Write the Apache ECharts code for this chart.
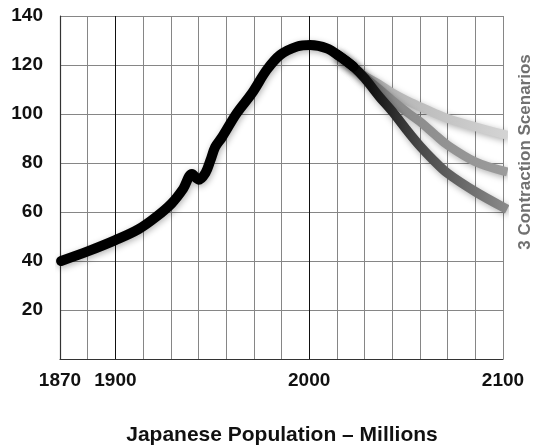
<!DOCTYPE html>
<html>
<head>
<meta charset="utf-8">
<script src="https://cdn.jsdelivr.net/npm/echarts@6/dist/echarts.min.js"></script>
<style>
  html, body { margin: 0; padding: 0; background: #fff; }
  #chart { width: 545px; height: 448px; }
</style>
</head>
<body>
<div id="chart"></div>
<script>
// x axis runs so the grid lines (every 100/7 years) land on 1900 and 2000
const X_MIN = 1900 - 200 / 7;
const X_MAX = 2100;

const xTickValues = [X_MIN, 1900, 2000, 2100];
const xTickLabels = ["1870", "1900", "2000", "2100"];

// historical curve, millions
const historyYears = [1872, 1886, 1900, 1912, 1921, 1929, 1935, 1939.5, 1943, 1946.5, 1949, 1951.5, 1955, 1962.6, 1970.4, 1978.1, 1985, 1993.6, 2000.5, 2009.1, 2016, 2022.8];
const historyPop   = [40, 44, 48.5, 53, 58, 63.5, 69.5, 75.5, 73.2, 76, 81, 86.5, 90.5, 100.3, 108.4, 118, 124.1, 127.5, 128.2, 126.8, 123.4, 119.3];

// projection scenarios
const scenarioYears = [2016, 2022.8, 2028.6, 2036.3, 2042.9, 2050, 2057.1, 2064.3, 2071.4, 2085.7, 2100];
const scenarioHigh  = [123.4, 119.3, 115.5, 112, 108.6, 105.6, 103, 100.5, 98.2, 94.8, 91.8];
const scenarioMid   = [123.4, 119.3, 115, 110, 105.5, 101, 96.9, 92, 87.3, 80.5, 76.8];
const scenarioLow   = [123.4, 119.3, 114.6, 107, 101, 93.8, 87, 81, 75.8, 68.3, 62];

const zip = (xs, ys) => xs.map((x, i) => [x, ys[i]]);

const font = '"Liberation Sans Narrow", "Liberation Sans", Arial, sans-serif';

const shadow = {
  shadowColor: "rgba(0,0,0,0.3)",
  shadowBlur: 6,
  shadowOffsetX: 1,
  shadowOffsetY: 2,
};

function grad(stops) {
  return new echarts.graphic.LinearGradient(0, 0, 1, 0,
    stops.map(([offset, color]) => ({ offset, color })));
}

const chart = echarts.init(document.getElementById("chart"));

chart.setOption({
  animation: false,
  title: {
    text: "Japanese Population \u2013 Millions",
    left: 277,
    top: 420,
    textAlign: "center",
    textStyle: { fontFamily: font, fontWeight: "bold", fontSize: 21, color: "#111" },
  },
  grid: { left: 60, right: 42, top: 16, bottom: 89 },
  xAxis: [
    {
      type: "value",
      min: X_MIN,
      max: X_MAX,
      axisLine: { show: true, lineStyle: { color: "#333", width: 1.2 } },
      axisTick: { show: false },
      splitLine: { show: false },
      axisLabel: {
        customValues: xTickValues,
        margin: 12,
        fontFamily: font,
        fontWeight: "bold",
        fontSize: 19,
        color: "#111",
        formatter: (v) => {
          let best = 0;
          xTickValues.forEach((t, i) => {
            if (Math.abs(t - v) < Math.abs(xTickValues[best] - v)) best = i;
          });
          return xTickLabels[best];
        },
      },
    },
    {
      // hidden axis only for the vertical grid lines
      type: "value",
      min: 0,
      max: 16,
      interval: 1,
      position: "bottom",
      axisLine: { show: false },
      axisTick: { show: false },
      axisLabel: { show: false },
      splitLine: { show: true, lineStyle: { color: "#868686", width: 1 } },
    },
  ],
  yAxis: {
    type: "value",
    min: 0,
    max: 140,
    interval: 20,
    axisLine: { show: true, lineStyle: { color: "#333", width: 1.2 } },
    axisTick: { show: false },
    splitLine: { show: true, lineStyle: { color: "#868686", width: 1 } },
    axisLabel: {
      showMinLabel: false,
      margin: 17,
      fontFamily: font,
      fontWeight: "bold",
      fontSize: 19,
      color: "#111",
    },
  },
  graphic: [
    {
      type: "text",
      x: 525,
      y: 152,
      rotation: Math.PI / 2,
      style: {
        text: "3 Contraction Scenarios",
        fontFamily: font,
        fontWeight: "bold",
        fontSize: 17,
        fill: "#707070",
        textAlign: "center",
        textVerticalAlign: "middle",
      },
    },
  ],
  series: [
    {
      type: "line",
      data: zip(scenarioYears, scenarioHigh),
      smooth: 0.35,
      showSymbol: false,
      lineStyle: { width: 9, cap: "square", color: grad([[0, "#888"], [0.3, "#b4b4b4"], [1, "#d4d4d4"]]), ...shadow },
      z: 2,
    },
    {
      type: "line",
      data: zip(scenarioYears, scenarioMid),
      smooth: 0.35,
      showSymbol: false,
      lineStyle: { width: 9, cap: "square", color: grad([[0, "#444"], [0.35, "#8a8a8a"], [1, "#9c9c9c"]]), ...shadow },
      z: 3,
    },
    {
      type: "line",
      data: zip(scenarioYears, scenarioLow),
      smooth: 0.35,
      showSymbol: false,
      lineStyle: { width: 9.5, cap: "square", color: grad([[0, "#000"], [0.2, "#111"], [0.5, "#4a4a4a"], [1, "#8a8a8a"]]), ...shadow },
      z: 4,
    },
    {
      type: "line",
      data: zip(historyYears, historyPop),
      smooth: 0.35,
      showSymbol: false,
      lineStyle: { width: 10, cap: "round", color: "#000", ...shadow },
      markLine: {
        silent: true,
        symbol: "none",
        label: { show: false },
        lineStyle: { color: "#111", width: 1, type: "solid", shadowBlur: 0, shadowOffsetX: 0, shadowOffsetY: 0 },
        data: [{ xAxis: 1900 }, { xAxis: 2000 }],
      },
      z: 5,
    },
  ],
});
</script>
</body>
</html>
